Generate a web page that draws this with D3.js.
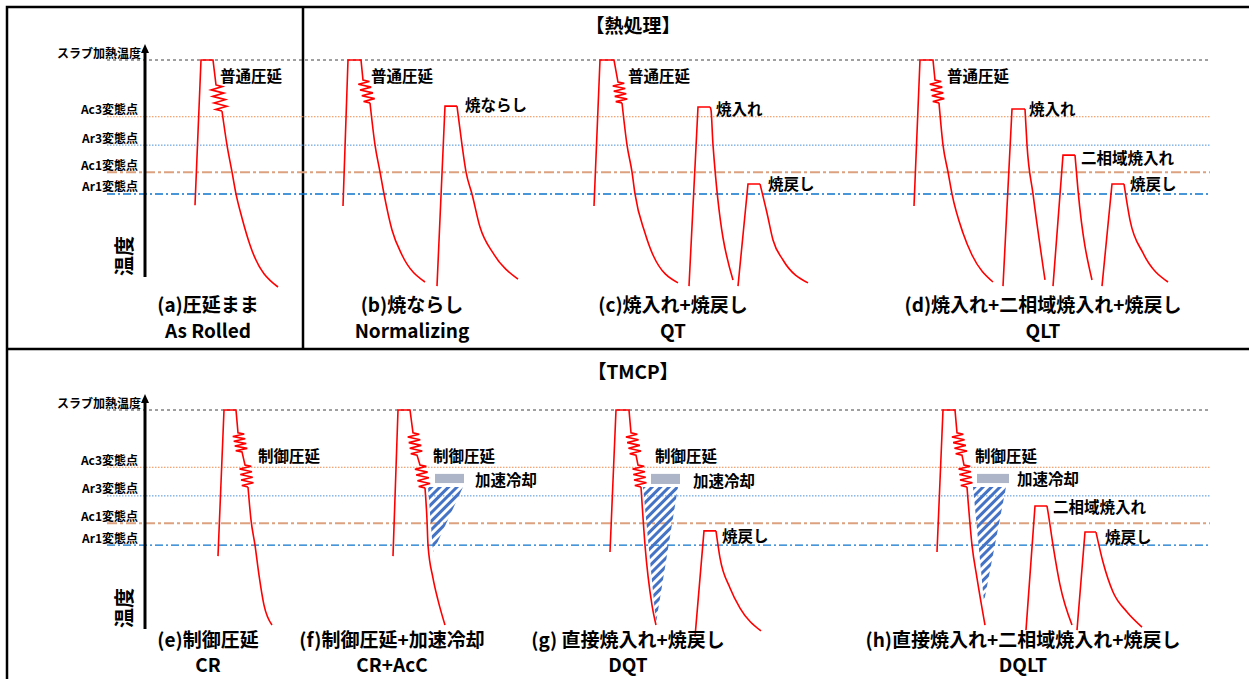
<!DOCTYPE html>
<html>
<head>
<meta charset="utf-8">
<script src="https://cdn.jsdelivr.net/npm/d3@7"></script>
<style>
body { margin: 0; background: #fff; }
text { font-family: "Noto Sans CJK JP", "Noto Sans", sans-serif; font-weight: 700; fill: #000; }
</style>
</head>
<body>
<script>
const width = 1249,
    height = 679;

// schematic temperature levels (slab reheating = 100)
const levelNames = ["スラブ加熱温度", "Ac3変態点", "Ar3変態点", "Ac1変態点", "Ar1変態点"];
const levelTemps = [100, 75, 62.5, 50.5, 41];

const sectionTitles = ["【熱処理】", "【TMCP】"];

const topCaptions = ["(a)圧延まま", "(b)焼ならし", "(c)焼入れ+焼戻し", "(d)焼入れ+二相域焼入れ+焼戻し"];
const topCodes = ["As Rolled", "Normalizing", "QT", "QLT"];
const bottomCaptions = ["(e)制御圧延", "(f)制御圧延+加速冷却", "(g) 直接焼入れ+焼戻し", "(h)直接焼入れ+二相域焼入れ+焼戻し"];
const bottomCodes = ["CR", "CR+AcC", "DQT", "DQLT"];

// each curve: [heating / holding / rolling points, cooling points]
// point = [time, temp, zigzag teeth up to the next point]
const curvesA = [
    [[[0, 36], [6, 100], [18, 100], [21, 89, 8], [27, 77.5]],
     [[32, 62.5], [37, 50.7], [41, 41], [47, 30.4], [55, 18.5], [83, 0]]]
];
const curvesB = [
    [[[0, 35.7], [5, 100], [18, 100], [20, 91.2, 8], [27, 81.1]],
     [[32, 62.6], [37, 50.7], [41, 41], [49, 25.1], [59, 14.1], [82, 2.2]]],
    [[[94, 0.4], [102, 79.7], [114, 79.7]],
     [[119, 62.6], [123, 50.7], [129, 41], [137, 26.4], [150, 15], [175, 3.5]]]
];
const curvesC = [
    [[[0, 35.7], [6, 100], [20, 100], [24, 90.3, 8], [28, 81.1]],
     [[33, 62.6], [38, 50.7], [41, 41], [51, 23.8], [59, 14.1], [84, 1.8]]],
    [[[95, 0.4], [104, 79.3], [116, 79.3]],
     [[117, 78], [119, 62.6], [139, 3.1]]],
    [[[144, 0.4], [154, 45.4], [166, 45.4]],
     [[173, 32.6], [179, 20.7], [189, 11.9], [214, 1.8]]]
];
const curvesD = [
    [[[0, 35.7], [6, 100], [19, 100], [21, 91.2, 8], [25, 81.1]],
     [[29, 62.6], [34, 50.7], [38, 41], [49, 23.8], [58, 14.1], [79, 2.2]]],
    [[[89, 0.4], [98, 78.4], [111, 78.4]],
     [[113, 62.6], [119, 41], [131, 3.1]]],
    [[[139, 0.4], [149, 58.1], [161, 58.1]],
     [[164, 42.7], [178, 3.1]]],
    [[[188, 0.4], [198, 45.4], [210, 45.4]],
     [[216, 29.5], [229, 15], [254, 2.2]]]
];
const curvesE = [
    [[[0, 36.2], [6, 100], [18, 100], [20, 90, 8], [24, 81.7], [27, 76, 8], [30, 66.4]],
     [[33, 52], [37, 41], [41, 27.9], [46, 14.8], [54, 6.1]]]
];
const curvesF = [
    [[[0, 36.2], [5, 100], [17, 100], [20, 90, 8], [24, 80.3], [27, 76, 8], [32, 66]],
     [[34, 52], [35, 41], [40, 26.6], [45, 17], [52, 6.1]]]
];
const curvesG = [
    [[[0, 38], [6, 100], [19, 100], [21, 90, 8], [26, 80.3], [28, 76, 8], [31, 66.4]],
     [[35, 41], [42, 14.8], [46, 6.1]]],
    [[[85, 0.9], [94, 47.2], [106, 47.2]],
     [[110, 35.4], [120, 22.3], [130, 13.5], [151, 3.5]]]
];
const curvesH = [
    [[[0, 38], [6, 100], [18, 100], [20, 90, 8], [25, 80.3], [27, 76, 8], [30, 66.4]],
     [[35, 41], [40, 26.6], [48, 6.1]]],
    [[[89, 3.9], [98, 58.1], [110, 58.1]],
     [[111, 55.5], [116, 41], [123, 23.6], [135, 6.1]]],
    [[[140, 3.9], [148, 46.7], [159, 46.7]],
     [[166, 33.6], [176, 20.5], [190, 11.8], [205, 5.2]]]
];

// annotations: [text, time, temp]
const labelsA = [["普通圧延", 25, 93.4]];
const labelsB = [["普通圧延", 28, 93.4], ["焼ならし", 122, 80.6]];
const labelsC = [["普通圧延", 34, 93.4], ["焼入れ", 122, 78.9], ["焼戻し", 174, 45.8]];
const labelsD = [["普通圧延", 33, 93.4], ["焼入れ", 115, 78.9], ["二相域焼入れ", 167, 57.3], ["焼戻し", 216, 45.8]];
const labelsE = [["制御圧延", 40, 80.3]];
const labelsF = [["制御圧延", 40, 80.3], ["加速冷却", 82, 69.9]];
const labelsG = [["制御圧延", 45, 80.3], ["加速冷却", 83, 69.4], ["焼戻し", 112, 45.4]];
const labelsH = [["制御圧延", 38, 80.3], ["加速冷却", 80, 70.3], ["二相域焼入れ", 116, 58.1], ["焼戻し", 168, 45]];

// accelerated cooling: bar [t0, t1, T0, T1], triangle [t0, t1, Ttop, tTip, Ttip]
const accBars = { F: [42, 71, 72.1, 68.1], G: [41, 70, 72.1, 67.7], H: [40, 72, 72.1, 68.1] };
const accWedges = { F: [35, 70, 66.4, 40, 38], G: [33, 68, 66.4, 46, 7], H: [36, 69, 66.4, 47, 16.2] };

const levelStyles = [
    { color: "#404040", dash: "3,3", w: 1 },
    { color: "#ee8a4a", dash: "1.5,1.5", w: 1 },
    { color: "#4a90d9", dash: "1.5,1.5", w: 1 },
    { color: "#dca280", dash: "10,3,3,3", w: 2 },
    { color: "#0c74cc", dash: "8,3,2,3", w: 1.4 }
];

const svg = d3.select("body").append("svg")
    .attr("width", width)
    .attr("height", height);

const defs = svg.append("defs");
defs.append("pattern")
    .attr("id", "hatch")
    .attr("patternUnits", "userSpaceOnUse")
    .attr("width", 6)
    .attr("height", 6)
    .attr("patternTransform", "rotate(45)")
    .append("rect")
    .attr("x", 0).attr("y", 0)
    .attr("width", 3).attr("height", 6)
    .attr("fill", "#4472c4");

// frame
svg.append("path")
    .attr("d", "M7,679V7H1249M7,349H1249M303,7V349")
    .attr("fill", "none")
    .attr("stroke", "#000")
    .attr("stroke-width", 2.5);

const rows = [
    { top: 60, zero: 287, titleY: 24, capY: 303, codeY: 329,
      starts: [195, 343, 594, 914], capX: [208, 412, 673, 1043],
      curves: [curvesA, curvesB, curvesC, curvesD], labels: [labelsA, labelsB, labelsC, labelsD],
      acc: [null, null, null, null], captions: topCaptions, codes: topCodes },
    { top: 410, zero: 639, titleY: 370, capY: 638, codeY: 663,
      starts: [218, 393, 610, 937], capX: [208, 392, 628, 1023],
      curves: [curvesE, curvesF, curvesG, curvesH], labels: [labelsE, labelsF, labelsG, labelsH],
      acc: [null, "F", "G", "H"], captions: bottomCaptions, codes: bottomCodes }
];

rows.forEach(function (row, ri) {
    const y = d3.scaleLinear().domain([0, 100]).range([row.zero, row.top]);
    const g = svg.append("g");

    g.append("text")
        .attr("x", 633).attr("y", row.titleY)
        .attr("text-anchor", "middle")
        .attr("dominant-baseline", "central")
        .style("font-size", "19px")
        .text(sectionTitles[ri]);

    // level lines
    g.selectAll(".level")
        .data(levelTemps)
        .enter().append("line")
        .attr("x1", 107).attr("x2", 1210)
        .attr("y1", d => y(d)).attr("y2", d => y(d))
        .attr("stroke", (d, i) => levelStyles[i].color)
        .attr("stroke-dasharray", (d, i) => levelStyles[i].dash)
        .attr("stroke-width", (d, i) => levelStyles[i].w);

    g.selectAll(".lvlLabel")
        .data(levelNames)
        .enter().append("text")
        .attr("x", (d, i) => i === 0 ? 141 : 138)
        .attr("y", (d, i) => y(levelTemps[i]) - 8)
        .attr("text-anchor", "end")
        .attr("dominant-baseline", "central")
        .style("font-size", "12px")
        .text(d => d);

    // temperature axis
    g.append("line")
        .attr("x1", 145).attr("x2", 145)
        .attr("y1", row.zero - 10).attr("y2", row.top - 10)
        .attr("stroke", "#000").attr("stroke-width", 3);
    g.append("path")
        .attr("d", `M145,${row.top - 16}L149,${row.top - 7}L141,${row.top - 7}Z`)
        .attr("fill", "#000");
    g.append("text")
        .attr("transform", `translate(123,${row.zero - 31}) rotate(-90)`)
        .attr("text-anchor", "middle")
        .attr("dominant-baseline", "central")
        .style("font-size", "20px")
        .text("温度");

    row.starts.forEach(function (x0, pi) {
        const x = d3.scaleLinear().domain([0, 100]).range([x0, x0 + 100]);
        const pg = g.append("g");

        const accKey = row.acc[pi];
        if (accKey) {
            const b = accBars[accKey];
            pg.append("rect")
                .attr("x", x(b[0])).attr("y", y(b[2]))
                .attr("width", x(b[1]) - x(b[0])).attr("height", y(b[3]) - y(b[2]))
                .attr("fill", "#adb6c9");
            const w = accWedges[accKey];
            pg.append("path")
                .attr("d", d3.line()([[x(w[0]), y(w[2])], [x(w[1]), y(w[2])], [x(w[3]), y(w[4])]]) + "Z")
                .attr("fill", "url(#hatch)");
        }

        row.curves[pi].forEach(function (c) {
            const pts = [];
            c[0].forEach(function (p, i) {
                pts.push([x(p[0]), y(p[1])]);
                if (p[2] && i < c[0].length - 1) {
                    const q = c[0][i + 1];
                    const a = [x(p[0]), y(p[1])], b = [x(q[0]), y(q[1])];
                    for (let k = 1; k <= p[2]; k++) {
                        const f = (k - 0.5) / p[2];
                        pts.push([a[0] + (b[0] - a[0]) * f + (k % 2 ? 6 : -6), a[1] + (b[1] - a[1]) * f]);
                    }
                }
            });
            pg.append("path")
                .attr("d", d3.line()(pts))
                .attr("fill", "none")
                .attr("stroke", "#ff0000")
                .attr("stroke-width", 1.6)
                .attr("stroke-linejoin", "miter");
            const last = c[0][c[0].length - 1];
            const cool = [last].concat(c[1]).map(p => [x(p[0]), y(p[1])]);
            pg.append("path")
                .attr("d", d3.line().curve(d3.curveMonotoneX)(cool))
                .attr("fill", "none")
                .attr("stroke", "#ff0000")
                .attr("stroke-width", 1.6);
        });

        pg.selectAll(".lbl")
            .data(row.labels[pi])
            .enter().append("text")
            .attr("x", d => x(d[1]))
            .attr("y", d => y(d[2]))
            .attr("dominant-baseline", "central")
            .style("font-size", "15.5px")
            .text(d => d[0]);

        pg.append("text")
            .attr("x", row.capX[pi]).attr("y", row.capY)
            .attr("text-anchor", "middle")
            .attr("dominant-baseline", "central")
            .style("font-size", "19px")
            .text(row.captions[pi]);
        pg.append("text")
            .attr("x", row.capX[pi]).attr("y", row.codeY)
            .attr("text-anchor", "middle")
            .attr("dominant-baseline", "central")
            .style("font-size", "19px")
            .text(row.codes[pi]);
    });
});
</script>
</body>
</html>
